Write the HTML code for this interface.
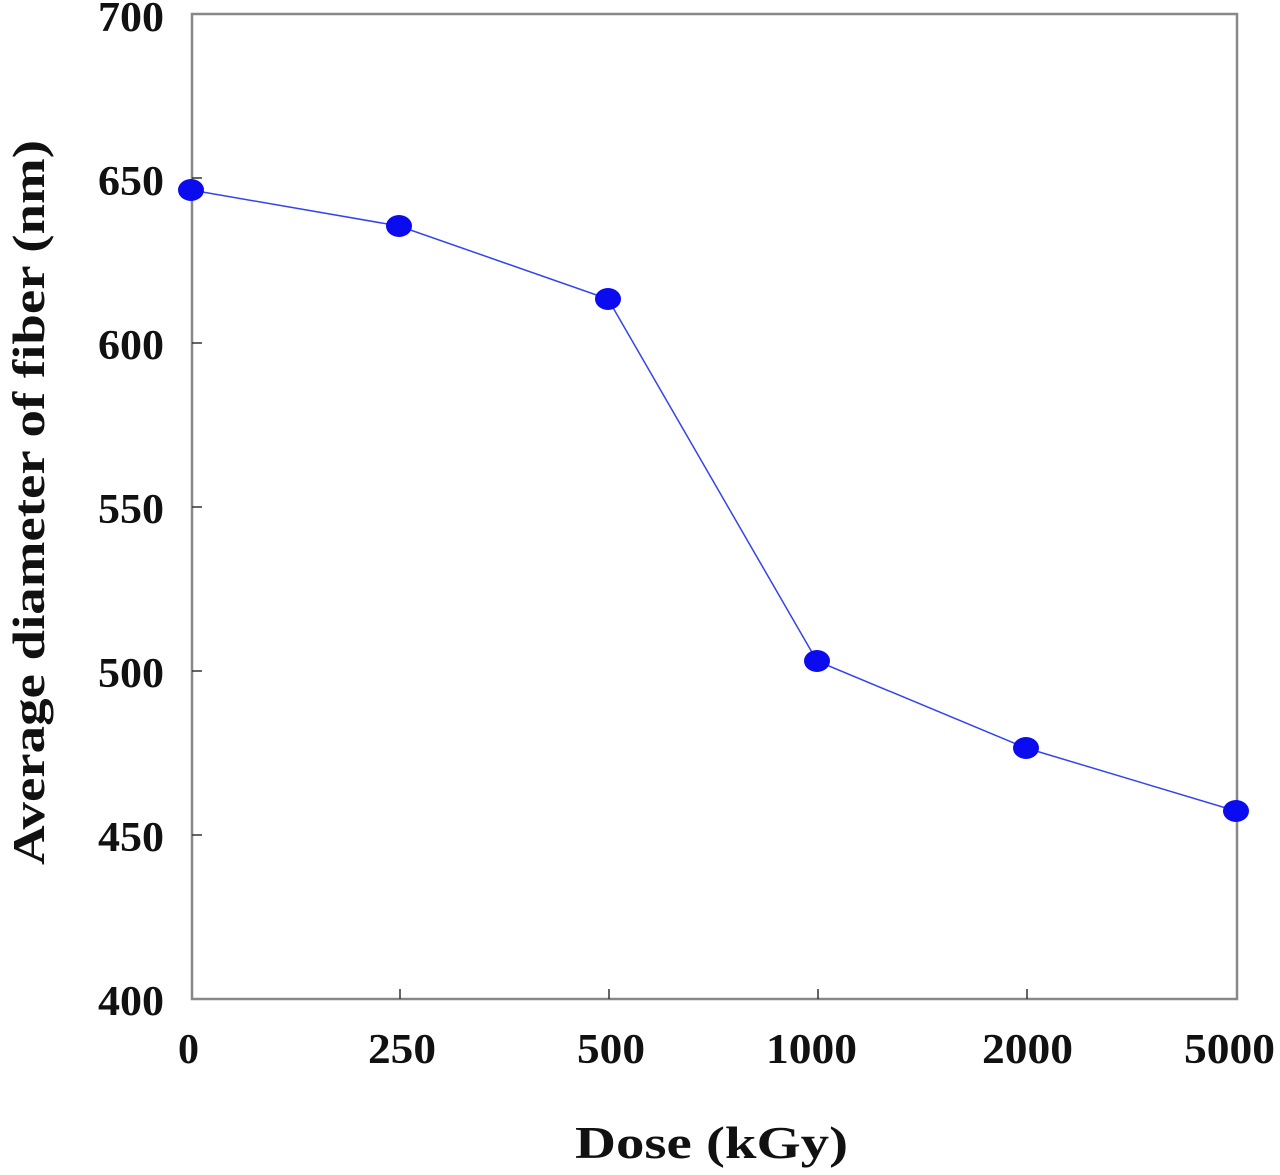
<!DOCTYPE html>
<html><head><style>body{margin:0;background:#fff}svg{display:block}</style></head>
<body>
<svg width="1280" height="1175" xmlns="http://www.w3.org/2000/svg" font-family="Liberation Serif, serif" font-weight="bold">
<rect x="192" y="14" width="1045" height="985" fill="none" stroke="#888" stroke-width="2.5"/>
<g stroke="#333" stroke-width="1.5">
<line x1="400" y1="999" x2="400" y2="989"/><line x1="609" y1="999" x2="609" y2="989"/>
<line x1="818" y1="999" x2="818" y2="989"/><line x1="1027" y1="999" x2="1027" y2="989"/>
<line x1="192" y1="835" x2="202" y2="835"/><line x1="192" y1="671" x2="202" y2="671"/>
<line x1="192" y1="507" x2="202" y2="507"/><line x1="192" y1="343" x2="202" y2="343"/>
<line x1="192" y1="178" x2="202" y2="178"/>
</g>
<g font-size="42" text-anchor="end" fill="#111">
<text x="164" y="1015" textLength="66" lengthAdjust="spacingAndGlyphs">400</text><text x="164" y="851" textLength="66" lengthAdjust="spacingAndGlyphs">450</text><text x="164" y="687" textLength="66" lengthAdjust="spacingAndGlyphs">500</text>
<text x="164" y="523" textLength="66" lengthAdjust="spacingAndGlyphs">550</text><text x="164" y="359" textLength="66" lengthAdjust="spacingAndGlyphs">600</text><text x="164" y="195" textLength="66" lengthAdjust="spacingAndGlyphs">650</text>
<text x="164" y="31" textLength="66" lengthAdjust="spacingAndGlyphs">700</text>
</g>
<g font-size="42" fill="#111">
<text x="178" y="1063">0</text>
<text x="368" y="1063" textLength="68" lengthAdjust="spacingAndGlyphs">250</text>
<text x="577" y="1063" textLength="68" lengthAdjust="spacingAndGlyphs">500</text>
<text x="766" y="1063" textLength="91" lengthAdjust="spacingAndGlyphs">1000</text>
<text x="982" y="1063" textLength="91" lengthAdjust="spacingAndGlyphs">2000</text>
<text x="1184" y="1063" textLength="91" lengthAdjust="spacingAndGlyphs">5000</text>
</g>
<text x="575" y="1158" font-size="46" fill="#111" textLength="273" lengthAdjust="spacingAndGlyphs">Dose (kGy)</text>
<text transform="translate(44,865) rotate(-90)" font-size="46" fill="#111" textLength="725" lengthAdjust="spacingAndGlyphs">Average diameter of fiber (nm)</text>
<polyline points="191,190 399,226 608,299 817,661 1026,748 1236,811" fill="none" stroke="#3344ee" stroke-width="1.5"/>
<g fill="#0b0bf0">
<ellipse cx="191" cy="190" rx="13" ry="11"/><ellipse cx="399" cy="226" rx="13" ry="11"/>
<ellipse cx="608" cy="299" rx="13" ry="11"/><ellipse cx="817" cy="661" rx="13" ry="11"/>
<ellipse cx="1026" cy="748" rx="13" ry="11"/><ellipse cx="1236" cy="811" rx="13" ry="11"/>
</g>
</svg>
</body></html>
